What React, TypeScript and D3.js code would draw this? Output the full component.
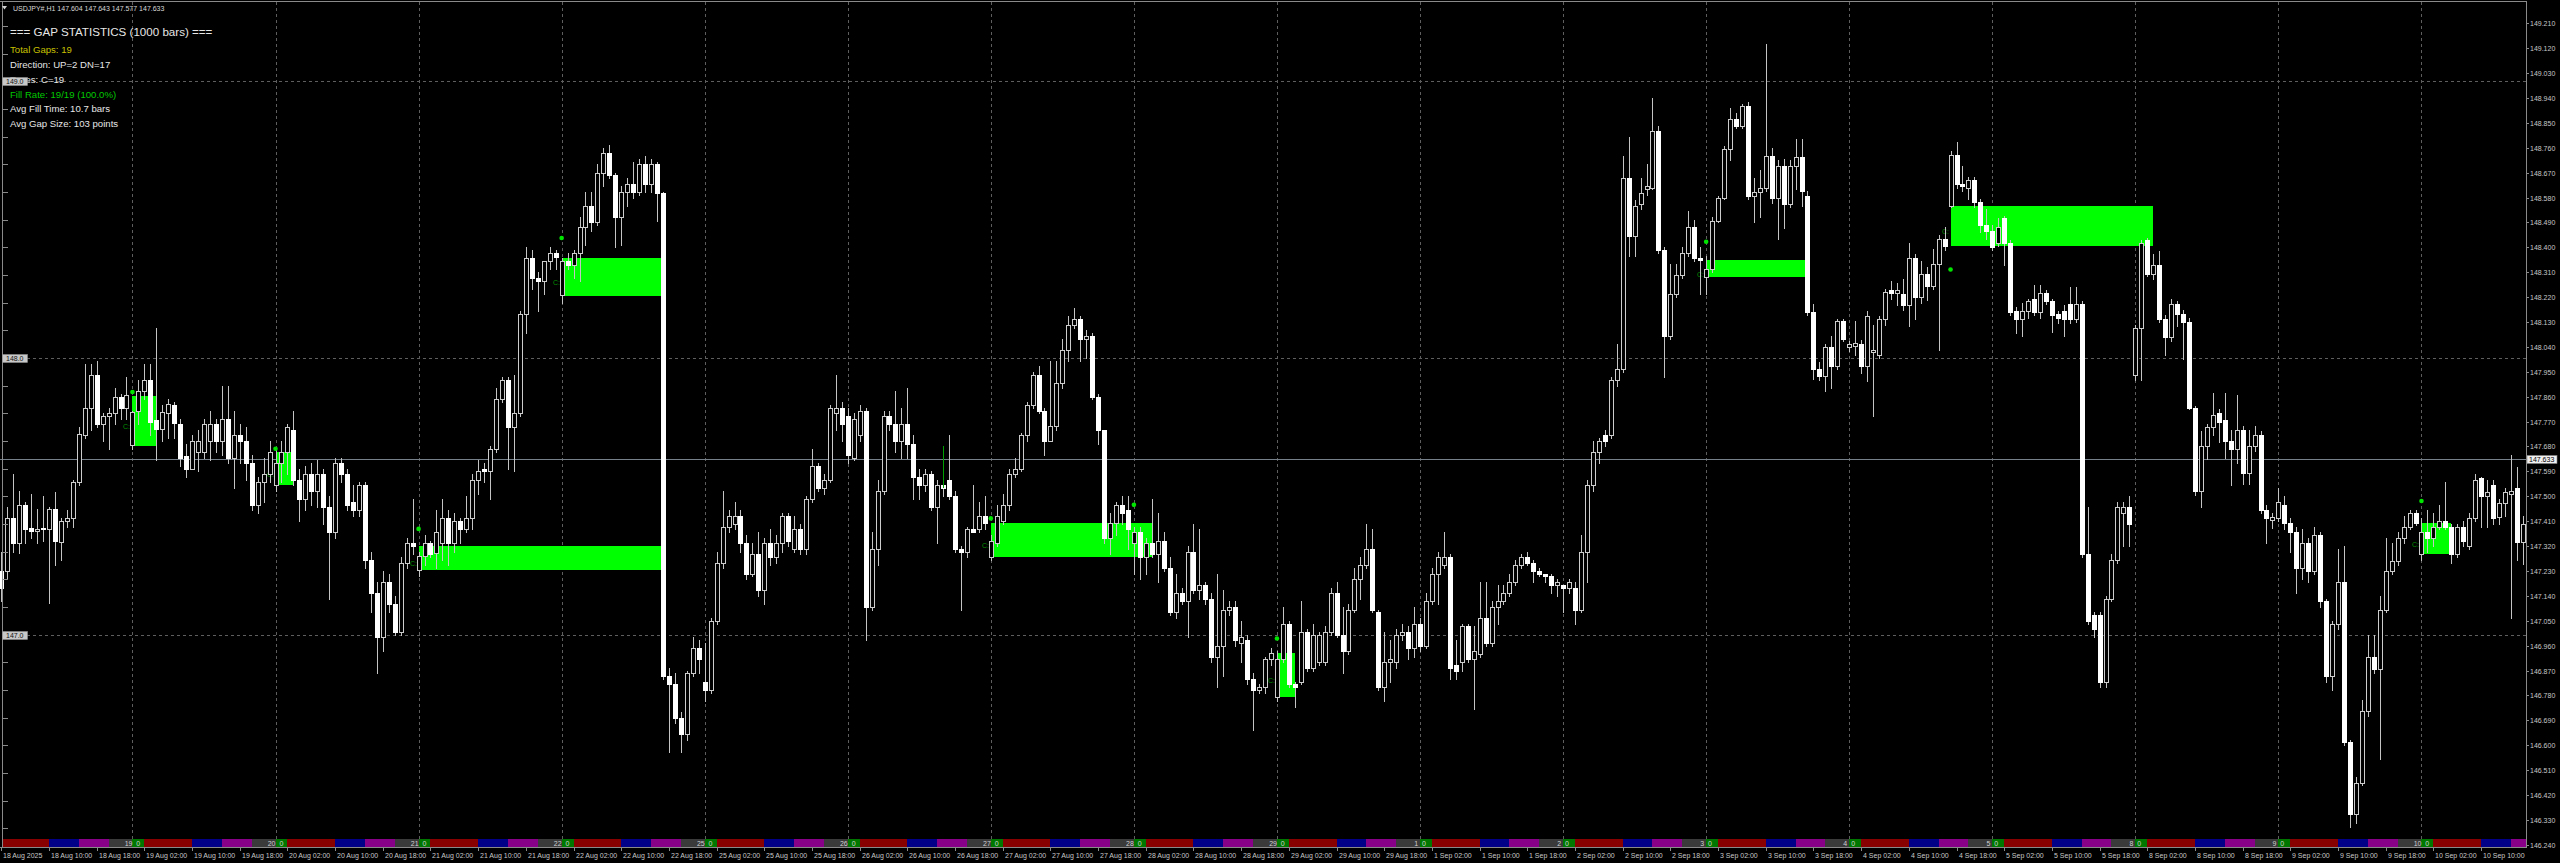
import React from 'react';
import * as d3 from 'd3';

const W = 2560;
const H = 863;

// trading days shown (bar 0 = 18 Aug 02:00, H1 bars)
const days = ['18 Aug', '19 Aug', '20 Aug', '21 Aug', '22 Aug', '25 Aug', '26 Aug', '27 Aug', '28 Aug', '29 Aug',
  '1 Sep', '2 Sep', '3 Sep', '4 Sep', '5 Sep', '8 Sep', '9 Sep', '10 Sep'];
const firstHour = 2;

// [open, high, low, close]
const week1: number[][] = [
  [147.23,147.30,147.12,147.17],[147.23,147.46,147.20,147.42],[147.42,147.58,147.30,147.33],[147.33,147.52,147.295,147.47],
  [147.47,147.48,147.33,147.38],[147.385,147.51,147.35,147.375],[147.375,147.455,147.33,147.38],[147.385,147.50,147.34,147.38],
  [147.38,147.46,147.115,147.455],[147.455,147.515,147.25,147.34],[147.335,147.42,147.27,147.41],[147.41,147.45,147.39,147.42],
  [147.42,147.56,147.39,147.55],[147.55,147.75,147.54,147.725],[147.72,147.98,147.71,147.82],[147.82,147.98,147.74,147.94],
  [147.94,147.99,147.75,147.76],[147.76,147.80,147.70,147.79],[147.79,147.82,147.67,147.80],[147.80,147.89,147.76,147.86],
  [147.86,147.87,147.78,147.82],[147.82,147.93,147.78,147.865],
  // 19 Aug
  [147.685,147.81,147.67,147.805],[147.81,147.92,147.76,147.88],[147.88,147.98,147.85,147.92],[147.92,147.98,147.72,147.77],
  [147.775,148.11,147.63,147.745],[147.745,147.83,147.70,147.805],[147.80,147.85,147.71,147.835],[147.83,147.84,147.71,147.765],
  [147.76,147.78,147.61,147.64],[147.645,147.69,147.57,147.60],[147.60,147.72,147.60,147.70],[147.66,147.74,147.59,147.70],
  [147.66,147.78,147.64,147.76],[147.70,147.81,147.63,147.76],[147.76,147.78,147.66,147.70],[147.70,147.90,147.65,147.78],
  [147.78,147.90,147.62,147.64],[147.64,147.81,147.53,147.72],[147.72,147.76,147.62,147.70],[147.70,147.75,147.56,147.62],
  [147.62,147.65,147.45,147.47],[147.47,147.57,147.44,147.55],[147.55,147.64,147.48,147.58],[147.58,147.70,147.55,147.66],
  // 20 Aug
  [147.54,147.67,147.52,147.62],[147.62,147.70,147.55,147.66],[147.66,147.76,147.58,147.75],[147.74,147.81,147.54,147.56],
  [147.56,147.60,147.41,147.49],[147.49,147.61,147.45,147.58],[147.58,147.62,147.47,147.52],[147.52,147.63,147.46,147.58],
  [147.58,147.60,147.40,147.46],[147.46,147.50,147.13,147.37],[147.37,147.64,147.35,147.62],[147.62,147.64,147.55,147.58],
  [147.58,147.60,147.45,147.47],[147.48,147.54,147.43,147.45],[147.45,147.55,147.43,147.54],[147.54,147.55,147.24,147.27],
  [147.27,147.30,147.08,147.15],[147.15,147.19,146.86,146.99],[146.99,147.23,146.94,147.19],[147.19,147.22,147.08,147.11],
  [147.11,147.14,147.00,147.01],[147.01,147.28,147.00,147.26],[147.26,147.35,147.24,147.33],[147.33,147.49,147.29,147.32],
  // 21 Aug
  [147.233,147.30,147.21,147.283],[147.283,147.36,147.25,147.331],[147.331,147.34,147.28,147.29],[147.295,147.45,147.24,147.37],
  [147.33,147.49,147.27,147.42],[147.42,147.45,147.25,147.33],[147.33,147.44,147.30,147.41],[147.41,147.42,147.33,147.38],
  [147.38,147.50,147.37,147.42],[147.42,147.58,147.38,147.56],[147.56,147.63,147.51,147.59],[147.60,147.62,147.55,147.59],
  [147.59,147.68,147.49,147.67],[147.67,147.89,147.66,147.85],[147.85,147.93,147.84,147.92],[147.92,147.93,147.60,147.75],
  [147.75,147.94,147.59,147.80],[147.80,148.17,147.79,148.16],[148.16,148.40,148.09,148.36],[148.36,148.39,148.25,148.29],
  [148.29,148.31,148.17,148.28],[148.28,148.35,148.23,148.35],[148.35,148.40,148.32,148.38],[148.38,148.39,148.32,148.365],
  // 22 Aug
  [148.226,148.36,148.20,148.35],[148.35,148.38,148.32,148.335],[148.335,148.39,148.29,148.38],[148.38,148.51,148.28,148.475],
  [148.475,148.60,148.41,148.55],[148.55,148.60,148.46,148.49],[148.49,148.70,148.48,148.67],[148.67,148.76,148.62,148.74],
  [148.74,148.77,148.65,148.66],[148.66,148.67,148.40,148.51],[148.51,148.62,148.41,148.60],[148.60,148.65,148.55,148.63],
  [148.63,148.71,148.58,148.60],[148.60,148.72,148.59,148.70],[148.70,148.73,148.60,148.63],[148.63,148.72,148.60,148.70],
  [148.70,148.71,148.495,148.595],[148.595,148.60,146.84,146.85],[146.85,146.88,146.575,146.82],[146.82,146.86,146.68,146.70],
  [146.70,146.72,146.575,146.64],[146.64,146.87,146.62,146.86],[146.86,146.99,146.85,146.95],[146.95,146.98,146.86,146.91],
];

const week2: number[][] = [
  // 25 Aug
  [146.83,146.97,146.76,146.80],[146.80,147.06,146.79,147.05],[147.05,147.30,147.04,147.26],[147.26,147.52,147.24,147.39],
  [147.39,147.45,147.37,147.43],[147.40,147.48,147.38,147.43],[147.43,147.45,147.30,147.33],[147.33,147.36,147.20,147.22],
  [147.22,147.33,147.21,147.29],[147.29,147.37,147.14,147.16],[147.16,147.35,147.11,147.33],[147.33,147.38,147.25,147.28],
  [147.28,147.36,147.26,147.33],[147.33,147.44,147.30,147.43],[147.43,147.44,147.32,147.34],[147.31,147.43,147.30,147.38],
  [147.38,147.40,147.29,147.31],[147.31,147.50,147.29,147.49],[147.49,147.67,147.48,147.61],[147.61,147.62,147.52,147.53],
  [147.53,147.58,147.51,147.56],[147.56,147.83,147.55,147.82],[147.80,147.94,147.74,147.82],[147.82,147.84,147.70,147.76],
  // 26 Aug
  [147.79,147.82,147.62,147.65],[147.64,147.80,147.63,147.78],[147.72,147.83,147.70,147.81],[147.81,147.82,146.98,147.10],
  [147.10,147.37,147.09,147.31],[147.31,147.56,147.25,147.52],[147.52,147.81,147.51,147.79],[147.79,147.81,147.74,147.76],
  [147.76,147.88,147.66,147.70],[147.70,147.82,147.64,147.76],[147.76,147.89,147.64,147.69],[147.69,147.72,147.49,147.57],
  [147.57,147.60,147.49,147.54],[147.54,147.60,147.52,147.58],[147.58,147.59,147.45,147.46],[147.46,147.56,147.33,147.54],
  [147.54,147.56,147.50,147.53],[147.56,147.72,147.49,147.50],[147.50,147.52,147.30,147.31],[147.31,147.32,147.09,147.30],
  [147.30,147.39,147.28,147.38],[147.38,147.54,147.37,147.37],[147.38,147.48,147.37,147.43],[147.43,147.50,147.38,147.405],
  // 27 Aug
  [147.281,147.36,147.27,147.34],[147.33,147.47,147.32,147.43],[147.41,147.51,147.40,147.47],[147.47,147.60,147.45,147.58],
  [147.58,147.64,147.57,147.60],[147.60,147.73,147.59,147.72],[147.72,147.84,147.70,147.83],[147.83,147.95,147.82,147.94],
  [147.94,147.97,147.80,147.81],[147.81,147.82,147.65,147.70],[147.70,147.99,147.70,147.755],[147.755,147.99,147.74,147.91],
  [147.91,148.07,147.89,148.03],[148.03,148.15,147.99,148.12],[148.12,148.18,148.11,148.14],[148.14,148.15,147.99,148.07],
  [148.07,148.10,148.00,148.08],[148.08,148.09,147.85,147.86],[147.86,147.87,147.69,147.74],[147.74,147.74,147.33,147.35],
  [147.35,147.44,147.29,147.405],[147.405,147.48,147.36,147.47],[147.47,147.50,147.40,147.44],[147.45,147.50,147.31,147.38],
  // 28 Aug
  [147.33,147.39,147.22,147.37],[147.37,147.39,147.20,147.28],[147.28,147.35,147.22,147.33],[147.33,147.49,147.28,147.29],
  [147.29,147.44,147.19,147.34],[147.34,147.37,147.23,147.24],[147.24,147.28,147.07,147.08],[147.08,147.22,147.06,147.15],
  [147.15,147.17,147.11,147.12],[147.12,147.32,146.99,147.30],[147.30,147.40,147.15,147.16],[147.16,147.38,147.13,147.18],
  [147.18,147.19,147.11,147.13],[147.13,147.15,146.90,146.92],[146.92,147.22,146.81,146.96],[146.96,147.16,146.85,147.09],
  [147.09,147.12,147.07,147.10],[147.10,147.12,146.96,146.98],[146.97,147.05,146.90,146.99],[146.98,147.00,146.82,146.84],
  [146.84,146.86,146.655,146.80],[146.80,146.82,146.79,146.81],[146.81,146.92,146.79,146.91],[146.91,146.95,146.89,146.933],
  // 29 Aug
  [146.774,146.94,146.76,146.91],[146.91,147.10,146.90,147.04],[147.04,147.05,146.81,146.82],[146.82,146.83,146.74,146.81],
  [146.83,147.12,146.82,147.01],[147.01,147.02,146.87,146.88],[146.88,147.04,146.87,147.00],[146.90,147.01,146.89,147.00],
  [146.90,147.03,146.89,147.01],[147.01,147.17,147.00,147.15],[147.15,147.19,146.99,147.00],[147.00,147.10,146.86,146.94],
  [146.94,147.11,146.93,147.09],[147.09,147.24,147.08,147.20],[147.20,147.28,147.13,147.25],[147.25,147.40,147.24,147.31],
  [147.31,147.38,147.08,147.09],[147.08,147.09,146.80,146.81],[146.81,147.01,146.76,146.90],[146.90,146.98,146.83,146.91],
  [146.90,147.02,146.88,147.00],[147.00,147.04,146.98,147.01],[147.01,147.03,146.91,146.95],[146.95,147.10,146.92,147.04],
];

const week3: number[][] = [
  // 1 Sep
  [147.04,147.06,146.94,146.96],[146.96,147.15,146.95,147.12],[147.12,147.24,147.11,147.22],[147.22,147.30,147.11,147.28],
  [147.25,147.37,147.24,147.28],[147.28,147.29,146.84,146.88],[146.89,146.98,146.84,146.87],[146.90,147.04,146.87,147.03],
  [147.03,147.04,146.90,146.91],[146.91,147.03,146.73,146.94],[146.93,147.19,146.92,147.06],[147.06,147.19,146.96,146.97],
  [146.97,147.12,146.96,147.10],[147.10,147.18,147.04,147.12],[147.12,147.18,147.11,147.15],[147.15,147.22,147.14,147.19],
  [147.19,147.27,147.18,147.25],[147.25,147.29,147.24,147.28],[147.28,147.30,147.25,147.26],[147.26,147.27,147.19,147.23],
  [147.23,147.24,147.21,147.22],[147.22,147.22,147.19,147.21],[147.21,147.22,147.15,147.18],[147.18,147.20,147.14,147.19],
  // 2 Sep
  [147.18,147.18,147.08,147.17],[147.17,147.20,147.15,147.19],[147.17,147.19,147.04,147.09],[147.09,147.36,147.08,147.30],
  [147.30,147.56,147.19,147.54],[147.54,147.70,147.52,147.66],[147.66,147.71,147.62,147.70],[147.72,147.74,147.68,147.70],
  [147.72,147.93,147.71,147.92],[147.92,148.05,147.90,147.96],[147.96,148.73,147.95,148.65],[148.65,148.80,148.37,148.44],
  [148.44,148.57,148.37,148.55],[148.555,148.65,148.54,148.595],[148.61,148.70,148.59,148.62],[148.615,148.94,148.61,148.82],
  [148.82,148.84,148.38,148.39],[148.39,148.40,147.93,148.08],[148.08,148.34,148.07,148.23],[148.23,148.34,148.22,148.30],
  [148.30,148.40,148.29,148.38],[148.38,148.53,148.37,148.475],[148.475,148.50,148.35,148.36],[148.36,148.40,148.23,148.356],
  // 3 Sep
  [148.292,148.37,148.23,148.32],[148.32,148.51,148.31,148.495],[148.495,148.585,148.49,148.58],[148.58,148.765,148.575,148.755],
  [148.755,148.905,148.715,148.865],[148.865,148.885,148.83,148.84],[148.84,148.92,148.83,148.91],[148.91,148.925,148.575,148.585],
  [148.585,148.65,148.49,148.60],[148.60,148.68,148.51,148.615],[148.615,149.136,148.605,148.73],[148.73,148.76,148.56,148.58],
  [148.58,148.715,148.43,148.695],[148.695,148.72,148.47,148.555],[148.555,148.715,148.545,148.695],[148.695,148.79,148.61,148.725],
  [148.725,148.79,148.55,148.605],[148.585,148.605,148.155,148.165],[148.165,148.195,147.925,147.96],[147.96,147.985,147.92,147.935],
  [147.935,148.05,147.88,148.04],[148.04,148.08,147.89,147.97],[147.97,148.14,147.96,148.135],[148.135,148.14,148.06,148.07],
  // 4 Sep
  [148.04,148.06,148.025,148.05],[148.045,148.135,148.01,148.055],[148.05,148.065,147.945,147.97],[147.97,148.17,147.915,148.15],
  [148.02,148.12,147.79,148.03],[148.01,148.15,148.00,148.14],[148.14,148.25,148.12,148.24],[148.245,148.28,148.215,148.235],
  [148.235,148.27,148.19,148.245],[148.23,148.285,148.175,148.19],[148.19,148.415,148.115,148.36],[148.36,148.375,148.14,148.22],
  [148.22,148.35,148.20,148.305],[148.305,148.33,148.21,148.26],[148.26,148.395,148.25,148.34],[148.34,148.445,148.03,148.43],
  [148.43,148.475,148.39,148.406],[148.551,148.75,148.545,148.735],[148.735,148.78,148.615,148.63],[148.63,148.695,148.605,148.62],
  [148.615,148.655,148.575,148.645],[148.645,148.655,148.545,148.565],[148.565,148.575,148.455,148.48],[148.48,148.54,148.43,148.46],
  // 5 Sep
  [148.46,148.48,148.39,148.40],[148.415,148.505,148.405,148.475],[148.505,148.515,148.335,148.415],[148.415,148.425,148.155,148.165],
  [148.17,148.185,148.09,148.14],[148.14,148.20,148.08,148.17],[148.17,148.215,148.145,148.205],[148.215,148.265,148.155,148.165],
  [148.165,148.265,148.145,148.235],[148.235,148.245,148.195,148.205],[148.205,148.215,148.095,148.155],[148.16,148.17,148.125,148.145],
  [148.17,148.19,148.08,148.14],[148.195,148.255,148.125,148.14],[148.14,148.255,148.13,148.195],[148.195,148.205,147.28,147.29],
  [147.29,147.46,147.04,147.05],[147.07,147.08,146.99,147.02],[147.07,147.08,146.81,146.83],[146.83,147.14,146.81,147.13],
  [147.13,147.29,147.12,147.27],[147.27,147.48,147.26,147.46],[147.44,147.48,147.32,147.46],[147.46,147.50,147.32,147.40],
];

const week4: number[][] = [
  // 8 Sep
  [147.94,148.12,147.92,148.11],[148.11,148.425,147.92,148.415],[148.425,148.435,148.295,148.305],[148.305,148.375,148.285,148.335],
  [148.335,148.385,148.13,148.14],[148.14,148.155,148.01,148.075],[148.075,148.215,148.06,148.195],[148.195,148.205,148.115,148.16],
  [148.16,148.175,147.995,148.13],[148.13,148.145,147.815,147.82],[147.82,147.825,147.505,147.52],[147.52,147.735,147.46,147.68],
  [147.68,147.76,147.635,147.75],[147.75,147.875,147.72,147.795],[147.80,147.815,147.695,147.77],[147.775,147.875,147.64,147.70],
  [147.70,147.74,147.54,147.67],[147.67,147.865,147.62,147.74],[147.74,147.755,147.545,147.585],[147.585,147.74,147.545,147.68],
  [147.68,147.755,147.665,147.72],[147.72,147.735,147.44,147.45],[147.45,147.47,147.33,147.42],[147.415,147.44,147.385,147.425],
  // 9 Sep
  [147.42,147.53,147.41,147.48],[147.47,147.50,147.38,147.405],[147.405,147.42,147.30,147.37],[147.37,147.39,147.15,147.24],
  [147.24,147.38,147.20,147.33],[147.33,147.35,147.19,147.23],[147.23,147.39,147.22,147.36],[147.36,147.37,147.10,147.12],
  [147.12,147.13,146.83,146.85],[146.85,147.05,146.80,147.04],[147.04,147.31,147.02,147.19],[147.19,147.32,146.60,146.61],
  [146.61,146.62,146.305,146.35],[146.35,146.485,146.32,146.465],[146.465,146.765,146.455,146.725],[146.725,147.00,146.705,146.92],
  [146.92,147.00,146.86,146.875],[146.875,147.14,146.55,147.09],[147.09,147.35,147.08,147.23],[147.23,147.33,147.22,147.265],
  [147.265,147.37,147.25,147.35],[147.35,147.43,147.33,147.39],[147.39,147.45,147.38,147.44],[147.44,147.45,147.395,147.405],
  // 10 Sep
  [147.291,147.42,147.27,147.37],[147.37,147.45,147.30,147.35],[147.35,147.44,147.32,147.39],[147.39,147.47,147.38,147.41],
  [147.41,147.55,147.38,147.39],[147.39,147.40,147.26,147.29],[147.29,147.40,147.28,147.39],[147.39,147.41,147.32,147.34],
  [147.32,147.44,147.31,147.42],[147.42,147.58,147.41,147.56],[147.565,147.57,147.39,147.50],[147.50,147.56,147.39,147.515],
  [147.54,147.56,147.40,147.42],[147.425,147.49,147.40,147.475],[147.475,147.53,147.43,147.515],[147.51,147.65,147.06,147.52],
  [147.53,147.605,147.27,147.335],[147.335,147.43,147.255,147.40],
];

// gap zones: start bar, fill bar, upper and lower price
const gapStart = [22, 46, 70, 94, 166, 214, 286, 327, 406];
const gapEnd = [26, 49, 111, 111, 193, 217, 303, 361, 411];
const gapHigh = [147.862, 147.66, 147.321, 148.362, 147.405, 146.933, 148.356, 148.551, 147.405];
const gapLow = [147.683, 147.54, 147.232, 148.223, 147.281, 146.774, 148.292, 148.406, 147.291];

// gap markers (dots)
const dotBars = [22, 46, 70, 94, 166, 190, 214, 286, 327, 406];
const dotPrices = [147.877, 147.672, 147.382, 148.434, 147.42, 147.469, 146.986, 148.42, 148.32, 147.483];

const markerBar = 158;
const markerRange = [147.68, 147.53];

const priceTicks = [146.24, 146.33, 146.42, 146.51, 146.60, 146.69, 146.78, 146.87, 146.96, 147.05, 147.14, 147.23,
  147.32, 147.41, 147.50, 147.59, 147.68, 147.77, 147.86, 147.95, 148.04, 148.13, 148.22, 148.31, 148.40, 148.49,
  148.58, 148.67, 148.76, 148.85, 148.94, 149.03, 149.12, 149.21];
const gridPrices = [147, 148, 149];
const currentPrice = 147.633;

const sessionFrom = [0, 2, 10, 15, 20];
const sessionTo = [2, 10, 15, 20, 24];
const sessionColor = ['#007800', '#880000', '#000088', '#880088', '#3a3a3a'];

const header = 'USDJPY#,H1  147.604 147.643 147.577 147.633';
const statsTitle = '=== GAP STATISTICS (1000 bars) ===';
const statsLines = ['Total Gaps: 19', 'Direction: UP=2  DN=17', 'Types: C=19', 'Fill Rate: 19/19 (100.0%)',
  'Avg Fill Time: 10.7 bars', 'Avg Gap Size: 103 points'];
const statsColors = ['#c8c000', '#e6e6e6', '#e6e6e6', '#00c800', '#e6e6e6', '#e6e6e6'];
const statsY = [53, 67.5, 82.5, 97.5, 112, 127];

const FONT = '"Liberation Sans", Arial, sans-serif';

export default function App() {
  const ohlc = [...week1, ...week2, ...week3, ...week4];
  const n = ohlc.length;
  const x = d3.scaleLinear().domain([0, 423]).range([1.3, 2522.8]);
  const y = d3.scaleLinear().domain([146.24, 149.21]).range([844.8, 23.3]);
  const plotRight = 2526;
  const stripTop = 839;
  const stripBottom = 847;
  const dayStarts = days.map((_, d) => d * 24 - firstHour);

  const pad = (h: number) => (h < 10 ? '0' + h : '' + h);
  const timeTicks: { b: number; label: string }[] = [{ b: 0, label: '18 Aug 2025' }];
  for (let b = 8; b < n; b += 8) {
    const d = Math.floor((b + firstHour) / 24);
    const h = (b + firstHour) % 24;
    timeTicks.push({ b, label: `${days[d]} ${pad(h)}:00` });
  }
  const leftTicks = d3.range(1463, 1493).map((v) => v / 10);

  const px = (i: number) => Math.round(x(i));
  const py = (p: number) => Math.round(y(p));

  return (
    <svg width={W} height={H} style={{ position: 'absolute', left: 0, top: 0, display: 'block', background: '#000' }}
      fontFamily={FONT}>
      <rect x={0} y={0} width={W} height={H} fill="#000" />
      {/* grid */}
      {gridPrices.map((p) => (
        <line key={'g' + p} x1={3} x2={plotRight} y1={py(p) + 0.5} y2={py(p) + 0.5} stroke="#5e5e5e" strokeDasharray="3,3" />
      ))}
      {dayStarts.slice(1).map((b) => (
        <line key={'v' + b} x1={px(b) + 0.5} x2={px(b) + 0.5} y1={2} y2={stripTop} stroke="#5e5e5e" strokeDasharray="3,3" />
      ))}
      {/* current price line */}
      <line x1={0} x2={plotRight} y1={py(currentPrice) + 0.5} y2={py(currentPrice) + 0.5} stroke="#76808b" />
      {/* gap zones */}
      {gapStart.map((s, k) => (
        <rect key={'z' + k} x={px(s)} y={py(gapHigh[k])} width={px(gapEnd[k]) - px(s)}
          height={py(gapLow[k]) - py(gapHigh[k])} fill="#00ff00" />
      ))}
      {gapStart.map((s, k) => (
        <text key={'c' + k} x={px(s) - 2} y={(py(gapHigh[k]) + py(gapLow[k])) / 2 + 8} fontSize={7} fill="#009000"
          textAnchor="end">C:</text>
      ))}
      {/* candles */}
      <g shapeRendering="crispEdges">
        {ohlc.map((c, i) => {
          const [o, h, l, cl] = c;
          const cx = px(i);
          const top = py(Math.max(o, cl));
          const bot = py(Math.min(o, cl));
          const bear = cl < o;
          return (
            <g key={i}>
              <line x1={cx + 0.5} x2={cx + 0.5} y1={py(h)} y2={py(l) + 1} stroke="#c4c4c4" />
              {bear ? (
                <rect x={cx - 2} y={top} width={5} height={Math.max(1, bot - top + 1)} fill="#ffffff" />
              ) : (
                <rect x={cx - 1.5} y={top + 0.5} width={4} height={Math.max(0, bot - top)} fill="#000" stroke="#cccccc" />
              )}
            </g>
          );
        })}
      </g>
      {/* gap dots */}
      {dotBars.map((b, k) => (
        <circle key={'d' + k} cx={x(b)} cy={y(dotPrices[k])} r={2.3} fill="#00e600" />
      ))}
      <line x1={px(markerBar) + 0.5} x2={px(markerBar) + 0.5} y1={py(markerRange[0])} y2={py(markerRange[1])} stroke="#00a000" />
      {/* session strip */}
      <g shapeRendering="crispEdges">
        {dayStarts.map((s, d) =>
          sessionFrom.map((f, k) => {
            const a = Math.max(2, x(s + f));
            const b = Math.min(plotRight, x(s + sessionTo[k]));
            if (b <= a) return null;
            return <rect key={`s${d}-${k}`} x={a} y={stripTop} width={b - a} height={stripBottom - stripTop} fill={sessionColor[k]} />;
          })
        )}
      </g>
      {dayStarts.slice(1).map((s, d) => (
        <text key={'sl' + d} x={x(s)} y={stripBottom - 1} fontSize={7} fill="#d0d0d0" textAnchor="middle">
          {days[d + 1].split(' ')[0] + '_0'}
        </text>
      ))}
      {/* frame */}
      <g shapeRendering="crispEdges" stroke="#8a8a8a">
        <line x1={0} x2={plotRight + 1} y1={1.5} y2={1.5} />
        <line x1={plotRight + 0.5} x2={plotRight + 0.5} y1={1} y2={stripBottom + 1} />
        <line x1={0} x2={plotRight + 1} y1={stripBottom + 0.5} y2={stripBottom + 0.5} />
        <line x1={2.5} x2={2.5} y1={1} y2={stripBottom} />
      </g>
      {/* left scale */}
      <g shapeRendering="crispEdges" stroke="#8a8a8a">
        {leftTicks.map((p) => (
          <line key={'lt' + p} x1={2} x2={8} y1={py(p) + 0.5} y2={py(p) + 0.5} />
        ))}
      </g>
      {/* right axis */}
      {priceTicks.map((p) => (
        <g key={'pt' + p}>
          <line x1={plotRight} x2={plotRight + 3} y1={py(p) + 0.5} y2={py(p) + 0.5} stroke="#8a8a8a" shapeRendering="crispEdges" />
          <text x={2530} y={py(p) + 2.5} fontSize={7} fill="#c8c8c8">{d3.format('.3f')(p)}</text>
        </g>
      ))}
      <rect x={2527} y={py(currentPrice) - 3.5} width={30} height={8} fill="#f0f0f0" stroke="#808080" strokeWidth={0.6} />
      <text x={2529} y={py(currentPrice) + 3} fontSize={7} fill="#000">{d3.format('.3f')(currentPrice)}</text>
      {/* time axis */}
      {timeTicks.map((t) => (
        <g key={'tt' + t.b}>
          <line x1={px(t.b) + 0.5} x2={px(t.b) + 0.5} y1={stripBottom} y2={stripBottom + 4} stroke="#8a8a8a" shapeRendering="crispEdges" />
          <text x={Math.max(2, px(t.b) + 2)} y={858} fontSize={7} fill="#c8c8c8">{t.label}</text>
        </g>
      ))}
      {/* header */}
      <polygon points="2,6 7,6 4.5,9.5" fill="#d0d0d0" />
      <text x={13} y={10.5} fontSize={7} fill="#d8d8d8">{header}</text>
      {/* statistics */}
      <text x={10} y={36} fontSize={11.6} fill="#e6e6e6">{statsTitle}</text>
      {statsLines.map((s, k) => (
        <text key={'st' + k} x={10} y={statsY[k]} fontSize={9.6} fill={statsColors[k]}>{s}</text>
      ))}
      {/* left price boxes */}
      {gridPrices.map((p) => (
        <g key={'lb' + p}>
          <rect x={2.5} y={py(p) - 3.5} width={25} height={8} fill="#c8c8c8" stroke="#909090" strokeWidth={0.6} />
          <text x={6} y={py(p) + 3} fontSize={7} fill="#101010">{d3.format('.1f')(p)}</text>
        </g>
      ))}
    </svg>
  );
}
